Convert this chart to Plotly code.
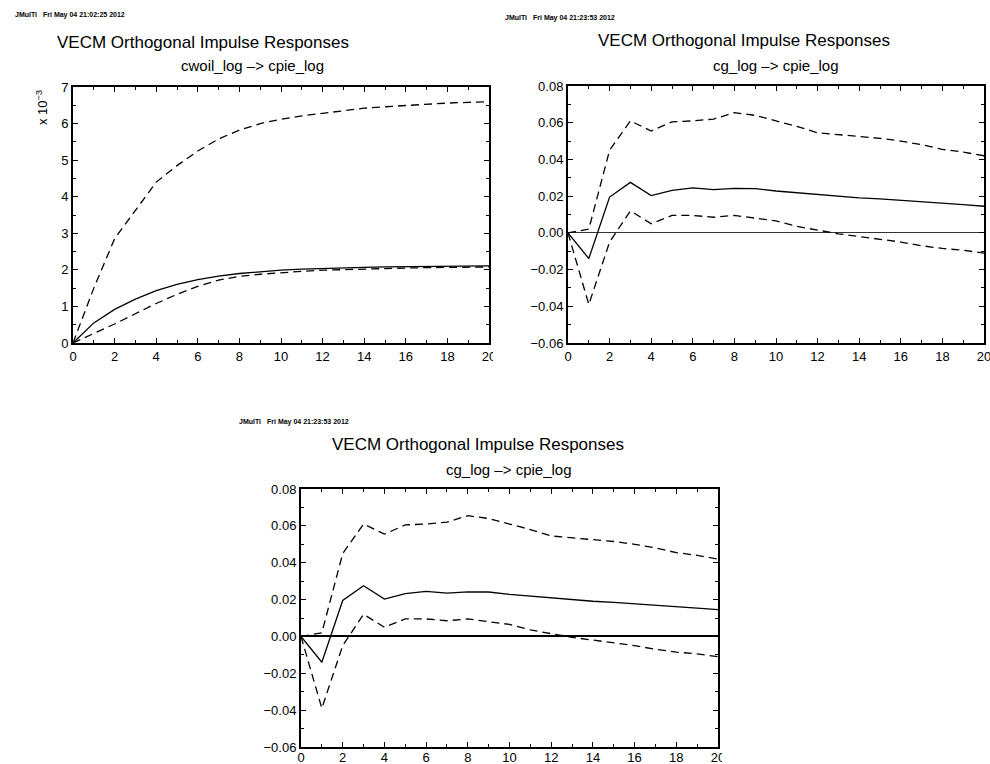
import plotly.graph_objects as go

W, H = 990, 764

# ---------------- data ----------------
horizon = list(range(21))

# cwoil_log -> cpie_log (values in units of 10^-3)
oil_point = [0.0, 0.55, 0.92, 1.20, 1.43, 1.60, 1.73, 1.83, 1.90, 1.95, 1.99,
             2.02, 2.04, 2.06, 2.07, 2.08, 2.09, 2.10, 2.10, 2.11, 2.11]
oil_upper = [0.0, 1.50, 2.85, 3.62, 4.40, 4.85, 5.25, 5.58, 5.82, 6.00, 6.12,
             6.21, 6.28, 6.35, 6.42, 6.46, 6.50, 6.53, 6.56, 6.58, 6.60]
oil_lower = [0.0, 0.25, 0.52, 0.80, 1.08, 1.33, 1.55, 1.72, 1.82, 1.88, 1.93,
             1.96, 1.99, 2.01, 2.03, 2.04, 2.05, 2.06, 2.07, 2.07, 2.08]

# cg_log -> cpie_log
cg_point = [0.0, -0.0140, 0.0195, 0.0275, 0.0203, 0.0232, 0.0245, 0.0235, 0.0242, 0.0241, 0.0228,
            0.0218, 0.0207, 0.0198, 0.0191, 0.0185, 0.0178, 0.0170, 0.0162, 0.0154, 0.0145]
cg_upper = [0.0, 0.0020, 0.0450, 0.0610, 0.0555, 0.0605, 0.0610, 0.0620, 0.0655, 0.0640, 0.0610,
            0.0580, 0.0545, 0.0535, 0.0525, 0.0515, 0.0500, 0.0480, 0.0455, 0.0440, 0.0420]
cg_lower = [0.0, -0.0390, -0.0050, 0.0120, 0.0050, 0.0095, 0.0095, 0.0085, 0.0095, 0.0080, 0.0065,
            0.0035, 0.0015, -0.0005, -0.0020, -0.0035, -0.0050, -0.0070, -0.0085, -0.0095, -0.0110]

titles = ["VECM Orthogonal Impulse Responses"] * 3
subtitles = ["cwoil_log \u2013> cpie_log", "cg_log \u2013> cpie_log", "cg_log \u2013> cpie_log"]
header_app = "JMulTi"
header_dates = ["Fri May 04 21:02:25 2012",
                "Fri May 04 21:23:53 2012",
                "Fri May 04 21:23:53 2012"]

# ---------------- layout helpers ----------------
FONT = "Liberation Sans"


def px_x(p):
    return p / W


def px_y(p):
    return 1 - p / H


panels = [
    # (x0, x1, y0(top), y1(bottom)) in pixels
    (73, 489, 87, 343),
    (568, 984, 86, 343),
    (301, 718, 489, 747),
]

series = [
    (oil_point, oil_upper, oil_lower),
    (cg_point, cg_upper, cg_lower),
    (cg_point, cg_upper, cg_lower),
]

fig = go.Figure()

for i, (pt, up, lo) in enumerate(series):
    suf = "" if i == 0 else str(i + 1)
    xa, ya = "x" + suf, "y" + suf
    for vals, dash in ((up, "8px,5px"), (lo, "8px,5px"), (pt, "solid")):
        fig.add_trace(go.Scatter(x=horizon, y=vals, mode="lines", xaxis=xa, yaxis=ya,
                                 line=dict(color="black", width=1.3, dash=dash),
                                 showlegend=False, hoverinfo="skip"))

axis_common = dict(showline=True, linewidth=2, linecolor="black", mirror="ticks",
                   ticks="inside", ticklen=5, tickwidth=1, tickcolor="black",
                   showgrid=False, automargin=False, ticklabeloverflow="allow",
                   tickfont=dict(family=FONT, size=13, color="black"))

layout = dict(width=W, height=H, margin=dict(l=0, r=0, t=0, b=0),
              paper_bgcolor="white", plot_bgcolor="white", template="none",
              showlegend=False)

zl = [dict(zeroline=False),
      dict(zeroline=True, zerolinecolor="#333333", zerolinewidth=1),
      dict(zeroline=True, zerolinecolor="black", zerolinewidth=2)]
x_standoff = [0, 0, -3]

for i, (x0, x1, y0, y1) in enumerate(panels):
    suf = "" if i == 0 else str(i + 1)
    xa = dict(axis_common, domain=[px_x(x0), px_x(x1)], range=[0, 20],
              tickmode="linear", tick0=0, dtick=2, zeroline=False,
              anchor="y" + suf, ticklabelstandoff=x_standoff[i],
              minor=dict(ticks="inside", ticklen=3, dtick=1, tickcolor="black"))
    if i == 0:
        ya = dict(axis_common, domain=[px_y(y1), px_y(y0)], range=[0, 7],
                  tickmode="linear", tick0=0, dtick=1, anchor="x" + suf,
                  minor=dict(ticks="inside", ticklen=3, dtick=0.5, tickcolor="black"),
                  **zl[i])
    else:
        ya = dict(axis_common, domain=[px_y(y1), px_y(y0)], range=[-0.06, 0.08],
                  tickmode="linear", tick0=0, dtick=0.02, tickformat=".2f",
                  anchor="x" + suf,
                  minor=dict(ticks="inside", ticklen=3, dtick=0.01, tickcolor="black"),
                  **zl[i])
    layout["xaxis" + suf] = xa
    layout["yaxis" + suf] = ya

# the source images were cropped just past their right frame, cutting the last tick label
layout["shapes"] = [
    dict(type="rect", xref="paper", yref="paper", layer="above",
         x0=px_x(493), x1=px_x(504), y0=px_y(368), y1=px_y(347),
         fillcolor="white", line=dict(width=0)),
    dict(type="rect", xref="paper", yref="paper", layer="above",
         x0=px_x(722), x1=px_x(734), y0=px_y(764), y1=px_y(750),
         fillcolor="white", line=dict(width=0)),
]

fig.update_layout(**layout)

# ---------------- text ----------------
title_pos = [(203, 43), (744, 41), (478, 444)]
sub_pos = [(253, 65), (776, 65), (509, 469)]
head_pos = [(13, 15), (503, 18), (237, 421.5)]

for i in range(3):
    fig.add_annotation(x=px_x(title_pos[i][0]), y=px_y(title_pos[i][1]), xref="paper", yref="paper",
                       text=titles[i], showarrow=False, xanchor="center", yanchor="middle",
                       font=dict(family=FONT, size=17, color="black"))
    fig.add_annotation(x=px_x(sub_pos[i][0]), y=px_y(sub_pos[i][1]), xref="paper", yref="paper",
                       text=subtitles[i], showarrow=False, xanchor="center", yanchor="middle",
                       font=dict(family=FONT, size=15, color="black"))
    fig.add_annotation(x=px_x(head_pos[i][0]), y=px_y(head_pos[i][1]), xref="paper", yref="paper",
                       text="<b>" + header_app + "</b>", showarrow=False,
                       xanchor="left", yanchor="middle",
                       font=dict(family=FONT, size=7, color="black"))
    fig.add_annotation(x=px_x(head_pos[i][0] + 28), y=px_y(head_pos[i][1]), xref="paper", yref="paper",
                       text="<b>" + header_dates[i] + "</b>", showarrow=False,
                       xanchor="left", yanchor="middle",
                       font=dict(family=FONT, size=7, color="black"))

fig.add_annotation(x=px_x(42), y=px_y(108), xref="paper", yref="paper",
                   text="x 10<sup>\u22123</sup>", showarrow=False, textangle=-90,
                   xanchor="center", yanchor="middle",
                   font=dict(family=FONT, size=13, color="black"))

fig.write_html("out.html", config={"displayModeBar": False},
               post_script="document.body.style.margin='0';document.body.style.overflow='hidden';")
